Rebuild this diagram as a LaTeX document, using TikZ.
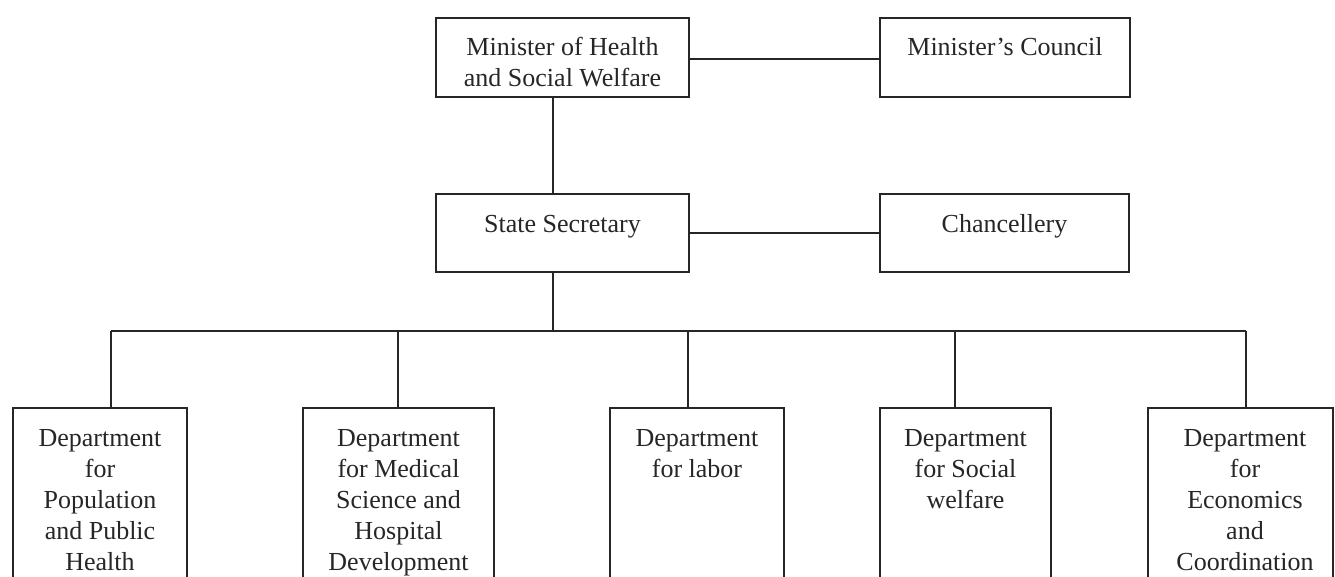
\documentclass[tikz,border=0pt]{standalone}
\usepackage{fontspec}
\setmainfont{Liberation Serif}
\definecolor{ink}{HTML}{262626}
\begin{document}
\begin{tikzpicture}[x=1pt,y=-1pt,
  box/.style={draw=ink, line width=1.7pt, rectangle, inner sep=0pt},
  lbl/.style={anchor=north, inner sep=0pt, align=center, font=\fontsize{26}{31}\selectfont, text=ink},
  link/.style={draw=ink, line width=1.7pt}]
\useasboundingbox (0,0) rectangle (1335,577);
\clip (0,0) rectangle (1335,577);
% top level
\node[box, minimum width=253pt, minimum height=79pt] (min) at (562.5,57.5) {};
\node[box, minimum width=250pt, minimum height=79pt] (cou) at (1005,57.5) {};
\node[box, minimum width=253pt, minimum height=78pt] (ss) at (562.5,233) {};
\node[box, minimum width=249pt, minimum height=78pt] (chn) at (1004.5,233) {};
\node[lbl] (minT) at (562.5,37) {Minister of Health\\and Social Welfare};
\node[lbl] (couT) at (1005,37) {Minister’s Council};
\node[lbl] (ssT) at (562.5,215) {State Secretary};
\node[lbl] (chnT) at (1004.5,214) {Chancellery};
% departments
\node[box, minimum width=174pt, minimum height=212pt] (d1) at (100,514) {};
\node[box, minimum width=191pt, minimum height=212pt] (d2) at (398.5,514) {};
\node[box, minimum width=174pt, minimum height=212pt] (d3) at (697,514) {};
\node[box, minimum width=171pt, minimum height=212pt] (d4) at (965.5,514) {};
\node[box, minimum width=185pt, minimum height=212pt] (d5) at (1240.5,514) {};
\node[lbl] (d1T) at (100,429) {Department\\for\\Population\\and Public\\Health};
\node[lbl] (d2T) at (398.5,429) {Department\\for Medical\\Science and\\Hospital\\Development};
\node[lbl] (d3T) at (697,429) {Department\\for labor};
\node[lbl] (d4T) at (965.5,429) {Department\\for Social\\welfare};
\node[lbl] (d5T) at (1245,429) {Department\\for\\Economics\\and\\Coordination};
% connectors
\coordinate (bus) at (553,331);
\coordinate (t1) at (111,331);
\coordinate (t2) at (398,331);
\coordinate (t3) at (688,331);
\coordinate (t4) at (955,331);
\coordinate (t5) at (1246,331);
\draw[link] ([yshift=-1.5pt]min.east) -- ([yshift=-1.5pt]cou.west);
\draw[link] (min.south -| bus) -- (ss.north -| bus);
\draw[link] (ss.east) -- (chn.west);
\draw[link] (ss.south -| bus) -- (bus);
\draw[link] (t1) -- (t5);
\draw[link] (t1) -- (d1.north -| t1);
\draw[link] (t2) -- (d2.north -| t2);
\draw[link] (t3) -- (d3.north -| t3);
\draw[link] (t4) -- (d4.north -| t4);
\draw[link] (t5) -- (d5.north -| t5);
\end{tikzpicture}
\end{document}
